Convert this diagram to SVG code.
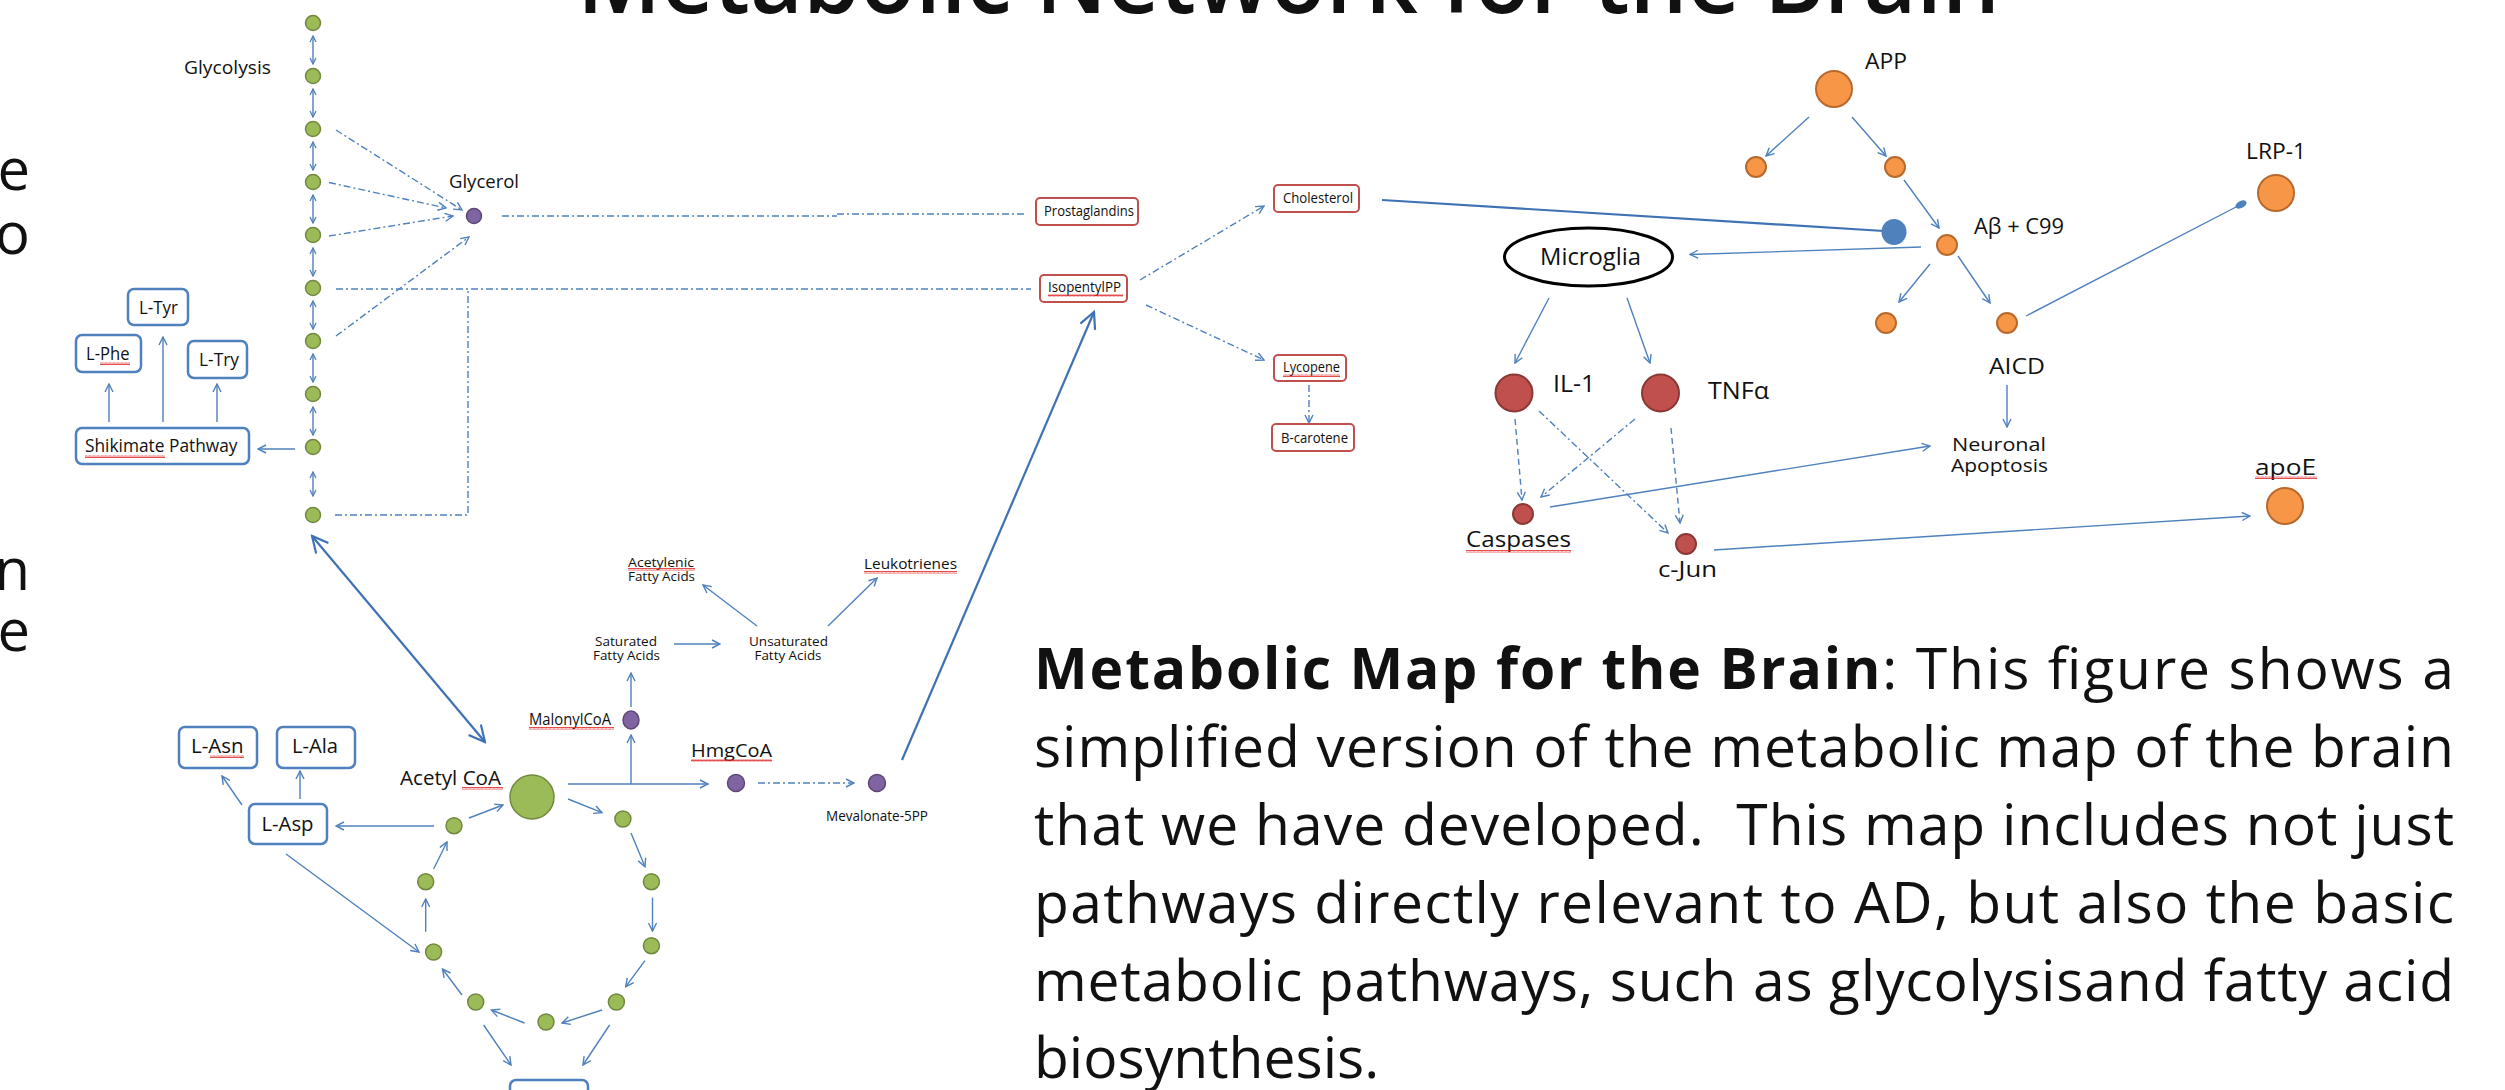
<svg xmlns="http://www.w3.org/2000/svg" width="2505" height="1090" viewBox="0 0 2505 1090">
<style>
text{font-family:"Open Sans","Liberation Sans",sans-serif;fill:#111}
.c{fill:none;stroke:#4f81bd;stroke-width:1.4}
.th{fill:none;stroke:#3f72b5;stroke-width:2.2}
.dd{stroke-dasharray:7,3,2,3}
.da{stroke-dasharray:6,4}
.g{fill:#9bbb59;stroke:#71893f;stroke-width:1.5}
.p{fill:#8064a2;stroke:#5c4776;stroke-width:1.5}
.o{fill:#f79646;stroke:#b8692e;stroke-width:2}
.r{fill:#c0504d;stroke:#8c3836;stroke-width:2}
.bb{fill:#fff;stroke:#4f81bd;stroke-width:2.5}
.rb{fill:#fff;stroke:#c0504d;stroke-width:2}
.w{fill:url(#wv)}
</style>
<defs>
<pattern id="wv" width="4" height="3" patternUnits="userSpaceOnUse"><path d="M0,2.5 L1,0.5 L2,2.5 L3,0.5 L4,2.5" fill="none" stroke="#e02020" stroke-width="0.8"/></pattern>
<marker id="ar" viewBox="0 0 10 10" refX="9" refY="5" markerWidth="10" markerHeight="10" markerUnits="userSpaceOnUse" orient="auto-start-reverse"><path d="M1,1 L9,5 L1,9" fill="none" stroke="#4f81bd" stroke-width="1.4"/></marker>
<marker id="ag" viewBox="0 0 8 8" refX="7" refY="4" markerWidth="8" markerHeight="8" markerUnits="userSpaceOnUse" orient="auto-start-reverse"><path d="M1,1 L7,4 L1,7" fill="none" stroke="#4f81bd" stroke-width="1.3"/></marker>
<marker id="ab" viewBox="0 0 20 20" refX="18" refY="10" markerWidth="20" markerHeight="20" markerUnits="userSpaceOnUse" orient="auto-start-reverse"><path d="M2,2 L18,10 L2,18" fill="none" stroke="#3f72b5" stroke-width="2.2"/></marker>
</defs>
<rect width="2505" height="1090" fill="#fff"/>

<g id="title"><text x="577" y="13" font-size="96" font-weight="600" textLength="1423" lengthAdjust="spacingAndGlyphs">Metabolic Network for the Brain</text></g>
<g id="left-text" font-size="58" text-anchor="end">
<text x="30" y="190">e</text><text x="30" y="254">o</text><text x="30" y="590">n</text><text x="30" y="651">e</text>
</g>

<g id="connectors">
<g class="c" marker-start="url(#ag)" marker-end="url(#ag)">
<path d="M313,36V64"/><path d="M313,89V117"/><path d="M313,142V170"/><path d="M313,195V223"/><path d="M313,248V276"/><path d="M313,301V329"/><path d="M313,354V382"/><path d="M313,407V435"/><path d="M313,472V496"/>
</g>
<g class="c dd" marker-end="url(#ar)">
<path d="M336,130L462,210"/><path d="M329,182.5L446,208"/><path d="M329,236L453,216"/><path d="M336,336L469,237"/>
<path d="M1140,280L1264,206"/><path d="M1146,305L1264,360"/><path d="M1309,385V423"/>
<path d="M758,783H854"/>
<path d="M1539,411L1668,533"/><path d="M1635,419L1541,497"/>
</g>
<g class="c da" marker-end="url(#ar)">
<path d="M1515,419L1522,500"/><path d="M1671,428L1680,523"/>
</g>
<path class="c dd" d="M502,216H837M837,214H1026"/>
<path class="c dd" d="M336,289H1031M335,515H468V289"/>
<path class="th" d="M902,760L1094,312" marker-end="url(#ab)"/>
<path class="th" d="M312,536L485,742" marker-start="url(#ab)" marker-end="url(#ab)"/>
<g class="c" marker-end="url(#ar)">
<path d="M295,449H258"/><path d="M109,422V384"/><path d="M163,422V337"/><path d="M217,422V384"/>
<path d="M568,784H708"/><path d="M631,784V735"/><path d="M631,707V673"/>
<path d="M674,644H720"/><path d="M757,626L703,585"/><path d="M828,626L877,578"/>
<path d="M469,818L503,805"/><path d="M568,799L602,812.7"/><path d="M631,833L645,866.7"/><path d="M652.5,897.7V931"/><path d="M645,960.7L625.7,986.7"/><path d="M602,1010L562,1023"/><path d="M524.6,1023L491.4,1010"/><path d="M462,995L442.5,969"/><path d="M425.7,931.7V899"/><path d="M433.6,869L447,842"/>
<path d="M483.6,1025L511,1065"/><path d="M609.6,1025L583,1065"/>
<path d="M434,826H336"/><path d="M286,854L419,952"/><path d="M242,805L222,776"/><path d="M300,799V771"/>
<path d="M1809,117L1766,156"/><path d="M1852,117L1886,156"/><path d="M1904,180L1939,228"/>
<path d="M1921,247L1690,254.5"/><path d="M1930,264L1899,302"/><path d="M1958,256L1990,303"/>
<path d="M2007,385V427"/><path d="M1549,298L1515,363"/><path d="M1627,298L1650,363"/>
<path d="M1550,507L1930,446"/><path d="M1714,550L2250,516"/>
</g>
<path class="c" d="M2026,316L2236,207"/>
<ellipse cx="2241" cy="204.5" rx="3.5" ry="6" transform="rotate(62 2241 204.5)" fill="#4f81bd"/>
<path class="th" d="M1382,200L1884,231"/>
</g>

<g id="glycolysis">
<g class="g"><circle cx="313" cy="23" r="7.5"/><circle cx="313" cy="76" r="7.5"/><circle cx="313" cy="129" r="7.5"/><circle cx="313" cy="182" r="7.5"/><circle cx="313" cy="235" r="7.5"/><circle cx="313" cy="288" r="7.5"/><circle cx="313" cy="341" r="7.5"/><circle cx="313" cy="394" r="7.5"/><circle cx="313" cy="447" r="7.5"/><circle cx="313" cy="515" r="7.5"/></g>
<text x="184" y="74" font-size="19" textLength="87" lengthAdjust="spacingAndGlyphs">Glycolysis</text>
</g>
<g id="glycerol"><circle class="p" cx="474" cy="216" r="7.5"/><text x="449" y="188" font-size="19" textLength="70" lengthAdjust="spacingAndGlyphs">Glycerol</text></g>
<g id="l-tyr"><rect class="bb" x="128" y="289" width="60" height="36" rx="6"/><text x="139" y="314" font-size="19" textLength="39" lengthAdjust="spacingAndGlyphs">L-Tyr</text></g>
<g id="l-phe"><rect class="bb" x="76" y="335" width="65" height="37" rx="6"/><text x="86" y="360" font-size="19" textLength="43.5" lengthAdjust="spacingAndGlyphs">L-Phe</text><rect class="w" x="100" y="362" width="30" height="3"/></g>
<g id="l-try"><rect class="bb" x="188" y="341" width="59" height="37" rx="6"/><text x="199" y="366" font-size="19" textLength="40" lengthAdjust="spacingAndGlyphs">L-Try</text></g>
<g id="shikimate"><rect class="bb" x="76" y="428" width="173" height="36" rx="6"/><text x="85" y="452" font-size="19" textLength="152.5" lengthAdjust="spacingAndGlyphs">Shikimate Pathway</text><rect class="w" x="85" y="455" width="80" height="3"/></g>

<g id="prostaglandins"><rect class="rb" x="1036" y="198" width="102" height="27" rx="4"/><text x="1044" y="216" font-size="14.5" textLength="90" lengthAdjust="spacingAndGlyphs">Prostaglandins</text></g>
<g id="isopentylpp"><rect class="rb" x="1040" y="275" width="87" height="27" rx="4"/><text x="1048" y="292" font-size="14.5" textLength="73" lengthAdjust="spacingAndGlyphs">IsopentylPP</text><rect class="w" x="1048" y="294" width="75" height="3"/></g>
<g id="cholesterol"><rect class="rb" x="1274" y="185" width="85" height="27" rx="4"/><text x="1283" y="203" font-size="14.5" textLength="70" lengthAdjust="spacingAndGlyphs">Cholesterol</text></g>
<g id="lycopene"><rect class="rb" x="1274" y="355" width="72" height="26" rx="4"/><text x="1283" y="372" font-size="14.5" textLength="57" lengthAdjust="spacingAndGlyphs">Lycopene</text><rect class="w" x="1283" y="374" width="57" height="3"/></g>
<g id="b-carotene"><rect class="rb" x="1272" y="424" width="82" height="27" rx="4"/><text x="1281" y="443" font-size="14.5" textLength="67" lengthAdjust="spacingAndGlyphs">B-carotene</text></g>

<g id="acetyl-coa"><circle class="g" cx="532" cy="797" r="22"/><text x="400" y="785" font-size="20" textLength="101" lengthAdjust="spacingAndGlyphs">Acetyl CoA</text><rect class="w" x="462" y="787" width="41" height="3"/></g>
<g id="malonylcoa"><ellipse class="p" cx="631" cy="720" rx="8" ry="9"/><text x="529" y="725" font-size="15.5" textLength="82" lengthAdjust="spacingAndGlyphs">MalonylCoA</text><rect class="w" x="529" y="727" width="85" height="3"/></g>
<g id="hmgcoa"><circle class="p" cx="736" cy="783" r="8.5"/><text x="691" y="757" font-size="19" textLength="81" lengthAdjust="spacingAndGlyphs">HmgCoA</text><rect class="w" x="691" y="759" width="81" height="3"/></g>
<g id="mevalonate"><circle class="p" cx="877" cy="783" r="8.5"/><text x="826" y="821" font-size="14" textLength="102" lengthAdjust="spacingAndGlyphs">Mevalonate-5PP</text></g>
<g id="saturated" font-size="13.5"><text x="595" y="645.5" textLength="62" lengthAdjust="spacingAndGlyphs">Saturated</text><text x="593" y="660" textLength="67" lengthAdjust="spacingAndGlyphs">Fatty Acids</text></g>
<g id="unsaturated" font-size="13.5"><text x="749" y="645.5" textLength="79" lengthAdjust="spacingAndGlyphs">Unsaturated</text><text x="754.5" y="660" textLength="67" lengthAdjust="spacingAndGlyphs">Fatty Acids</text></g>
<g id="acetylenic" font-size="13.5"><text x="628" y="566.5" textLength="66" lengthAdjust="spacingAndGlyphs">Acetylenic</text><text x="628" y="580.5" textLength="67" lengthAdjust="spacingAndGlyphs">Fatty Acids</text><rect class="w" x="628" y="568" width="67" height="3"/></g>
<g id="leukotrienes"><text x="864" y="569" font-size="14.5" textLength="93" lengthAdjust="spacingAndGlyphs">Leukotrienes</text><rect class="w" x="864" y="571" width="93" height="3"/></g>
<g id="l-asn"><rect class="bb" x="179" y="727" width="78" height="41" rx="6"/><text x="191" y="753" font-size="20" textLength="52.6" lengthAdjust="spacingAndGlyphs">L-Asn</text><rect class="w" x="210" y="755" width="34" height="3"/></g>
<g id="l-ala"><rect class="bb" x="277" y="727" width="78" height="41" rx="6"/><text x="292" y="753" font-size="20" textLength="46" lengthAdjust="spacingAndGlyphs">L-Ala</text></g>
<g id="l-asp"><rect class="bb" x="249" y="804" width="78" height="40" rx="6"/><text x="261.5" y="831" font-size="20" textLength="52" lengthAdjust="spacingAndGlyphs">L-Asp</text></g>
<g id="tca-cycle" class="g">
<circle cx="454" cy="825.7" r="8"/><circle cx="425.7" cy="881.7" r="8"/><circle cx="433.6" cy="952" r="8"/><circle cx="475.7" cy="1002" r="8"/><circle cx="546" cy="1022" r="8"/><circle cx="616.4" cy="1002" r="8"/><circle cx="651.4" cy="945.7" r="8"/><circle cx="651.4" cy="881.7" r="8"/><circle cx="622.9" cy="819" r="8"/>
</g>
<g id="bottom-box"><rect class="bb" x="510" y="1080" width="78" height="34" rx="6"/></g>

<g id="app"><circle class="o" cx="1834" cy="89" r="18"/><text x="1865" y="69" font-size="21" textLength="42" lengthAdjust="spacingAndGlyphs">APP</text></g>
<g id="app-frag-1"><circle class="o" cx="1756" cy="167" r="10"/></g>
<g id="app-frag-2"><circle class="o" cx="1895" cy="167" r="10"/></g>
<g id="cholesterol-site"><ellipse cx="1894" cy="232" rx="12.5" ry="13" fill="#4f81bd"/></g>
<g id="abeta"><circle class="o" cx="1947" cy="245" r="10"/><text x="1974" y="233.5" font-size="21" textLength="90" lengthAdjust="spacingAndGlyphs">Aβ + C99</text></g>
<g id="abeta-frag-1"><circle class="o" cx="1886" cy="323" r="10"/></g>
<g id="aicd"><circle class="o" cx="2007" cy="323" r="10"/><text x="1989" y="374" font-size="22" textLength="56" lengthAdjust="spacingAndGlyphs">AICD</text></g>
<g id="lrp1"><circle class="o" cx="2276" cy="193" r="18"/><text x="2246" y="159" font-size="22" textLength="60" lengthAdjust="spacingAndGlyphs">LRP-1</text></g>
<g id="apoe"><circle class="o" cx="2285" cy="506" r="18"/><text x="2255" y="474.5" font-size="21" textLength="61" lengthAdjust="spacingAndGlyphs">apoE</text><rect class="w" x="2255" y="476" width="62" height="3"/></g>
<g id="microglia"><ellipse cx="1588.5" cy="257" rx="84" ry="29" fill="#fff" stroke="#000" stroke-width="3"/><text x="1540" y="265" font-size="24" textLength="101" lengthAdjust="spacingAndGlyphs">Microglia</text></g>
<g id="il1"><circle class="r" cx="1514" cy="393" r="18.5"/><text x="1553" y="392" font-size="23" textLength="42.4" lengthAdjust="spacingAndGlyphs">IL-1</text></g>
<g id="tnfa"><circle class="r" cx="1660.5" cy="393" r="18.5"/><text x="1708" y="399" font-size="23" textLength="61" lengthAdjust="spacingAndGlyphs">TNFα</text></g>
<g id="neuronal-apoptosis" font-size="19"><text x="1952" y="451" textLength="94" lengthAdjust="spacingAndGlyphs">Neuronal</text><text x="1951" y="472" textLength="97" lengthAdjust="spacingAndGlyphs">Apoptosis</text></g>
<g id="caspases"><circle class="r" cx="1523" cy="514" r="10"/><text x="1466" y="547" font-size="21" textLength="105" lengthAdjust="spacingAndGlyphs">Caspases</text><rect class="w" x="1466" y="550" width="105" height="3"/></g>
<g id="c-jun"><circle class="r" cx="1686" cy="544" r="10"/><text x="1658" y="577" font-size="21" textLength="59" lengthAdjust="spacingAndGlyphs">c-Jun</text></g>

<g id="caption" font-size="57">
<text x="1034" y="689" textLength="1420" lengthAdjust="spacing"><tspan font-weight="bold">Metabolic Map for the Brain</tspan>: This figure shows a</text>
<text x="1034" y="767" textLength="1420" lengthAdjust="spacing">simplified version of the metabolic map of the brain</text>
<text x="1034" y="845" textLength="1420" lengthAdjust="spacing" xml:space="preserve">that we have developed.  This map includes not just</text>
<text x="1034" y="923" textLength="1420" lengthAdjust="spacing">pathways directly relevant to AD, but also the basic</text>
<text x="1034" y="1001" textLength="1420" lengthAdjust="spacing">metabolic pathways, such as glycolysisand fatty acid</text>
<text x="1034" y="1078">biosynthesis.</text>
</g>
</svg>
